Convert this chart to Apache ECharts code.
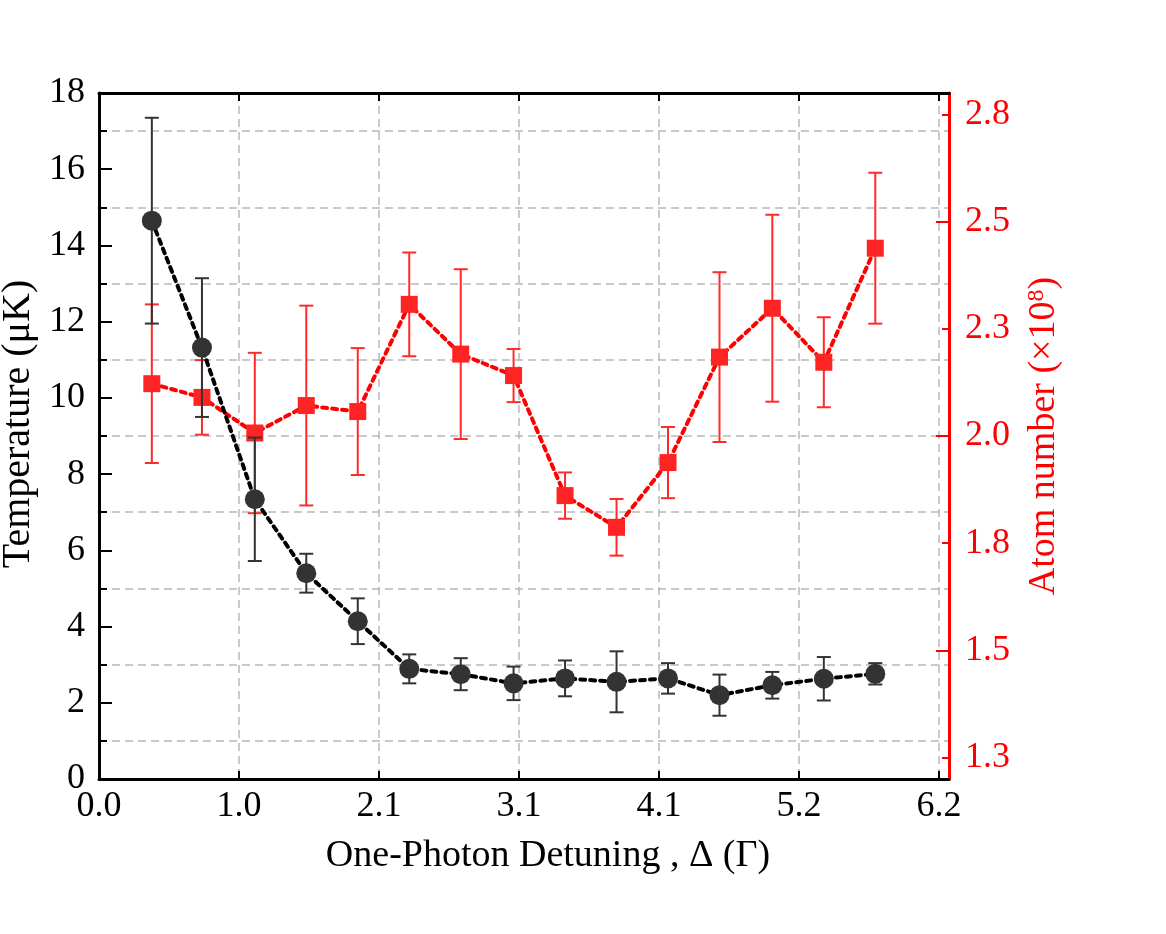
<!DOCTYPE html>
<html>
<head>
<meta charset="utf-8">
<script src="https://cdn.jsdelivr.net/npm/echarts@6/dist/echarts.min.js"></script>
<style>html,body{margin:0;padding:0;background:#fff;}#c{width:1166px;height:934px;}</style>
</head>
<body>
<div id="c"></div>
<script>
// ---- data ----
var detuning = [0.39, 0.76, 1.15, 1.53, 1.91, 2.29, 2.67, 3.06, 3.44, 3.82, 4.20, 4.58, 4.97, 5.35, 5.73];
var temperature = [14.65, 11.32, 7.34, 5.40, 4.14, 2.89, 2.75, 2.51, 2.64, 2.55, 2.64, 2.20, 2.46, 2.63, 2.76];
var temperatureErr = [2.70, 1.82, 1.62, 0.51, 0.60, 0.38, 0.42, 0.44, 0.47, 0.80, 0.40, 0.54, 0.35, 0.57, 0.28];
var atomNumber = [2.122, 2.090, 2.007, 2.071, 2.057, 2.307, 2.191, 2.141, 1.861, 1.787, 1.938, 2.184, 2.298, 2.172, 2.438];
var atomNumberErr = [0.185, 0.087, 0.187, 0.233, 0.148, 0.121, 0.198, 0.062, 0.054, 0.066, 0.083, 0.198, 0.218, 0.105, 0.176];

var xTickValues = [0, 6.2/6, 2*6.2/6, 3*6.2/6, 4*6.2/6, 5*6.2/6, 6.2];
var xTickLabels = ['0.0', '1.0', '2.1', '3.1', '4.1', '5.2', '6.2'];
var rightTickValues = [1.25, 1.5, 1.75, 2.0, 2.25, 2.5, 2.75];
var rightTickLabels = ['1.3', '1.5', '1.8', '2.0', '2.3', '2.5', '2.8'];
var rightMajorTicks = [1.5, 2.0, 2.5];
var rightMinorTicks = [1.25, 1.75, 2.25, 2.75];

var FONT = 'Liberation Serif';
var RED = '#ff0000';

function labelFor(values, labels) {
  return function (v) {
    var best = 0, bd = Infinity;
    for (var i = 0; i < values.length; i++) {
      var d = Math.abs(values[i] - v);
      if (d < bd) { bd = d; best = i; }
    }
    return labels[best];
  };
}

function pts(ys) { return detuning.map(function (x, i) { return [x, ys[i]]; }); }
function errs(ys, es) { return detuning.map(function (x, i) { return [x, ys[i] - es[i], ys[i] + es[i]]; }); }

function errRender(color) {
  return function (params, api) {
    var x = api.value(0);
    var lo = api.coord([x, api.value(1)]);
    var hi = api.coord([x, api.value(2)]);
    var hw = 7;
    var style = { stroke: color, lineWidth: 2 };
    return {
      type: 'group',
      children: [
        { type: 'line', shape: { x1: lo[0], y1: lo[1], x2: hi[0], y2: hi[1] }, style: style },
        { type: 'line', shape: { x1: lo[0] - hw, y1: lo[1], x2: lo[0] + hw, y2: lo[1] }, style: style },
        { type: 'line', shape: { x1: hi[0] - hw, y1: hi[1], x2: hi[0] + hw, y2: hi[1] }, style: style }
      ]
    };
  };
}

var gridDash = { color: '#b8b8b8', width: 1.5, type: [8, 5] };
var gridBox = { left: 99, right: 217, top: 93, bottom: 155, containLabel: false, outerBoundsMode: 'none' };

var option = {
  animation: false,
  backgroundColor: '#ffffff',
  grid: [Object.assign({}, gridBox), Object.assign({}, gridBox)],
  xAxis: [
    {
      type: 'value', gridIndex: 0, position: 'bottom', min: 0, max: 6.274,
      name: 'One-Photon Detuning , \u0394 (\u0393)', nameLocation: 'middle', nameGap: 58,
      nameTextStyle: { fontFamily: FONT, fontSize: 38, color: '#000', padding: [0, 0, 0, 48] },
      axisLine: { show: true, onZero: false, lineStyle: { color: '#000', width: 3 } },
      axisTick: { show: true, inside: true, length: 8, lineStyle: { color: '#000', width: 2 }, customValues: xTickValues },
      axisLabel: { show: true, margin: 10, fontFamily: FONT, fontSize: 36, color: '#000', customValues: xTickValues, formatter: labelFor(xTickValues, xTickLabels) },
      splitLine: { show: true, lineStyle: gridDash }
    },
    {
      type: 'value', gridIndex: 0, position: 'top', min: 0, max: 6.274,
      axisLine: { show: true, onZero: false, lineStyle: { color: '#000', width: 3 } },
      axisTick: { show: true, inside: true, length: 8, lineStyle: { color: '#000', width: 2 }, customValues: xTickValues },
      axisLabel: { show: false, customValues: xTickValues },
      splitLine: { show: false }
    },
    {
      type: 'value', gridIndex: 1, position: 'bottom', min: 0, max: 6.274, show: false,
      axisLine: { show: false, onZero: false }
    }
  ],
  yAxis: [
    {
      type: 'value', gridIndex: 0, position: 'left', min: 0, max: 18, interval: 2,
      name: 'Temperature (\u03bcK)', nameLocation: 'middle', nameGap: 56,
      nameTextStyle: { fontFamily: FONT, fontSize: 40, color: '#000', padding: [0, 0, 0, 24] },
      axisLine: { show: true, onZero: false, lineStyle: { color: '#000', width: 3 } },
      axisTick: { show: true, inside: true, length: 13, lineStyle: { color: '#000', width: 2 } },
      minorTick: { show: true, splitNumber: 2, length: 8, lineStyle: { color: '#000', width: 2 } },
      axisLabel: { margin: 14, fontFamily: FONT, fontSize: 36, color: '#000' },
      splitLine: { show: false },
      minorSplitLine: { show: true, lineStyle: gridDash }
    },
    {
      type: 'value', gridIndex: 0, position: 'right', min: 1.2, max: 2.8,
      name: 'Atom number (\u00d710{sup|8})', nameLocation: 'middle', nameGap: 76,
      nameTextStyle: {
        fontFamily: FONT, fontSize: 38, color: RED,
        rich: { sup: { fontFamily: FONT, fontSize: 24, color: RED, verticalAlign: 'top', padding: [0, 0, 14, 0] } }
      },
      axisLine: { show: true, onZero: false, lineStyle: { color: RED, width: 3 } },
      axisTick: { show: true, inside: true, length: 7, lineStyle: { color: RED, width: 2 }, customValues: rightMinorTicks },
      axisLabel: { margin: 16, fontFamily: FONT, fontSize: 36, color: RED, customValues: rightTickValues, formatter: labelFor(rightTickValues, rightTickLabels) },
      splitLine: { show: false }
    },
    {
      type: 'value', gridIndex: 1, position: 'right', min: 1.2, max: 2.8,
      axisLine: { show: false, onZero: false },
      axisTick: { show: true, inside: true, length: 13, lineStyle: { color: RED, width: 2 }, customValues: rightMajorTicks },
      axisLabel: { show: false, customValues: rightMajorTicks },
      splitLine: { show: false }
    }
  ],
  series: [
    {
      type: 'custom', xAxisIndex: 0, yAxisIndex: 1, z: 2,
      renderItem: errRender('#ff2a2a'),
      encode: { x: 0, y: [1, 2] },
      data: errs(atomNumber, atomNumberErr)
    },
    {
      type: 'line', xAxisIndex: 0, yAxisIndex: 1, z: 3,
      data: pts(atomNumber),
      symbol: 'rect', symbolSize: 17,
      itemStyle: { color: '#ff2424' },
      lineStyle: { color: RED, width: 4, type: [5, 5], cap: 'round' }
    },
    {
      type: 'custom', xAxisIndex: 0, yAxisIndex: 0, z: 4,
      renderItem: errRender('#333333'),
      encode: { x: 0, y: [1, 2] },
      data: errs(temperature, temperatureErr)
    },
    {
      type: 'line', xAxisIndex: 0, yAxisIndex: 0, z: 5,
      data: pts(temperature),
      symbol: 'circle', symbolSize: 20,
      itemStyle: { color: '#333333' },
      lineStyle: { color: '#000', width: 4, type: [5, 5], cap: 'round' }
    }
  ]
};

var chart = echarts.init(document.getElementById('c'), null, { renderer: 'canvas' });
chart.setOption(option);
</script>
</body>
</html>
